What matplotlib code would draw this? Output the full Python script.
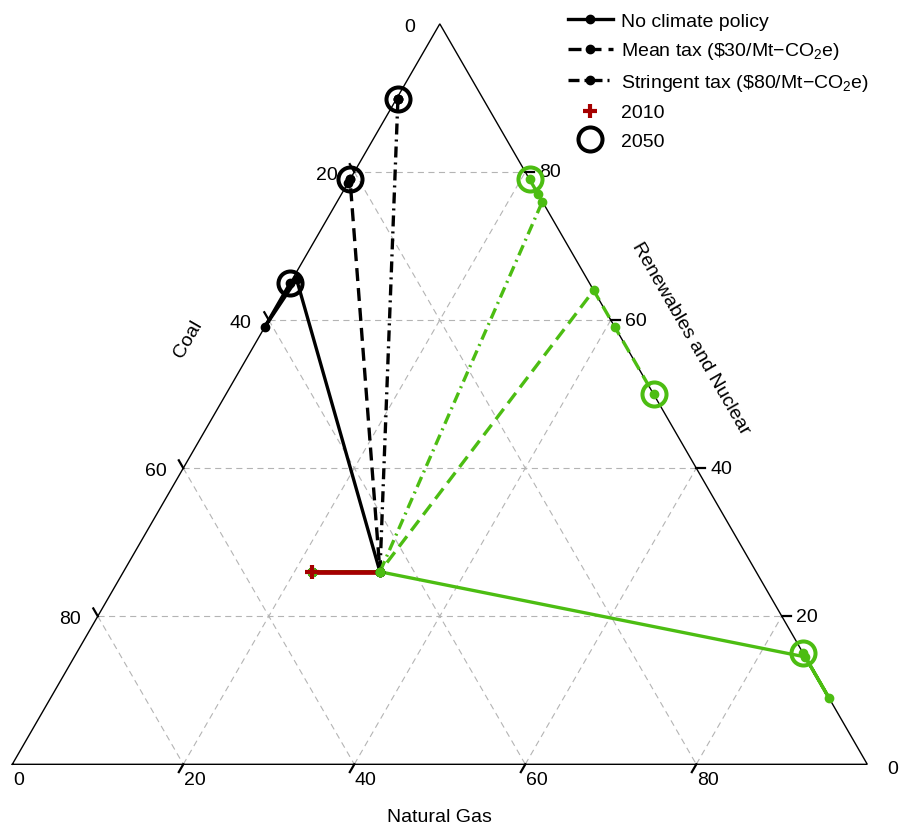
import numpy as np
import matplotlib.pyplot as plt
from matplotlib.lines import Line2D

plt.rcParams['font.family'] = ['Liberation Sans', 'DejaVu Sans']
plt.rcParams['mathtext.fontset'] = 'custom'
plt.rcParams['mathtext.rm'] = 'Liberation Sans'
plt.rcParams['mathtext.it'] = 'Liberation Sans:italic'

# -----------------------------
# Data: electricity shares (%) for 2010, 2020, 2030, 2040, 2050
# -----------------------------
years = [2010, 2020, 2030, 2040, 2050]

# black trajectories
k_none_coal = [52, 44, 34, 41, 35]
k_none_gas = [22, 30, 0.5, 0, 0]
k_none_ren = [26, 26, 65.5, 59, 65]

k_mean_coal = [52, 44, 21, 21.5, 21]
k_mean_gas = [22, 30, 0, 0, 0]
k_mean_ren = [26, 26, 79, 78.5, 79]

k_strict_coal = [52, 44, 10, 10, 10]
k_strict_gas = [22, 30, 0.2, 0.2, 0.2]
k_strict_ren = [26, 26, 89.8, 89.8, 89.8]

# green trajectories
g_none_coal = [52, 44, 0, 0, 0]
g_none_gas = [22, 30, 85.5, 91, 85]
g_none_ren = [26, 26, 14.5, 9, 15]

g_mean_coal = [52, 44, 0, 0, 0]
g_mean_gas = [22, 30, 36, 41, 50]
g_mean_ren = [26, 26, 64, 59, 50]

g_strict_coal = [52, 44, 0, 0, 0]
g_strict_gas = [22, 30, 24, 23, 21]
g_strict_ren = [26, 26, 76, 77, 79]

grid_vals = [20, 40, 60, 80]
label_vals = [0, 20, 40, 60, 80]

GREEN = '#4CBD12'
RED = '#A50000'
SQ3 = np.sqrt(3) / 2


def tern(coal, gas, ren):
    coal, gas, ren = np.asarray(coal, float), np.asarray(gas, float), np.asarray(ren, float)
    s = coal + gas + ren
    gas, ren = 100 * gas / s, 100 * ren / s
    return gas + ren / 2, ren * SQ3


# -----------------------------
# Figure / axes (1 data unit = 8.55 px)
# -----------------------------
fig = plt.figure(figsize=(8.99, 8.29), dpi=100)
ax = fig.add_axes([0, 0, 1, 1])
ax.set_xlim(-1.4386, 103.708)
ax.set_ylim(-7.450, 89.509)
ax.axis('off')
px = 1 / 8.55

# grid
gkw = dict(color='#B4B4B4', lw=0.8, ls=(0, (5.5, 4)), zorder=1)
for v in grid_vals:
    # constant renewables
    x, y = tern([100 - v, 0], [0, 100 - v], [v, v])
    ax.plot(x, y, **gkw)
    # constant gas
    x, y = tern([100 - v, 0], [v, v], [0, 100 - v])
    ax.plot(x, y, **gkw)
    # constant coal
    x, y = tern([v, v], [0, 100 - v], [100 - v, 0])
    ax.plot(x, y, **gkw)

# triangle
x, y = tern([100, 0, 0, 100], [0, 100, 0, 0], [0, 0, 100, 0])
ax.plot(x, y, color='black', lw=1.0, zorder=1.5, solid_joinstyle='miter')

# ticks and labels
tl = 9 * px
for v in label_vals:
    # natural gas (bottom)
    bx, by = tern(100 - v, v, 0)
    if v > 0:
        ax.plot([bx, bx - 0.5 * tl], [by, by - SQ3 * tl], color='black', lw=1.6)
    ax.text(bx + 0.7 * px, by - 15 * px, str(v), ha='left', va='center', fontsize=14)
    # renewables (right)
    bx, by = tern(0, 100 - v, v)
    if v > 0:
        ax.plot([bx, bx + tl], [by, by], color='black', lw=1.6)
    dx, dy = (20, -4) if v == 0 else (14, 0)
    ax.text(bx + dx * px, by + dy * px, str(v), ha='left', va='center', fontsize=14)
    # coal (left)
    bx, by = tern(v, 0, 100 - v)
    if v > 0:
        ax.plot([bx, bx - 0.5 * tl], [by, by + SQ3 * tl], color='black', lw=1.6)
    dx = -25 if v == 0 else -17
    ax.text(bx + dx * px, by - 2.5 * px, str(v), ha='right', va='center', fontsize=14)

ax.text(20.55, 49.86, 'Coal', rotation=60, ha='center', va='center', fontsize=14)
ax.text(79.4, 49.86, 'Renewables and Nuclear', rotation=-60, ha='center', va='center', fontsize=14)
ax.text(50.0, -6.16, 'Natural Gas', ha='center', va='center', fontsize=14)

# -----------------------------
# Trajectories
# -----------------------------
solid = '-'
dashed = (0, (3.9, 2.1))
dashdot = (0, (3.3, 1.5, 0.6, 1.5))

series = [
    (k_none_coal, k_none_gas, k_none_ren, 'black', solid),
    (k_mean_coal, k_mean_gas, k_mean_ren, 'black', dashed),
    (k_strict_coal, k_strict_gas, k_strict_ren, 'black', dashdot),
    (g_none_coal, g_none_gas, g_none_ren, GREEN, solid),
    (g_mean_coal, g_mean_gas, g_mean_ren, GREEN, dashed),
    (g_strict_coal, g_strict_gas, g_strict_ren, GREEN, dashdot),
]

for i, (c, g, r, col, ls) in enumerate(series):
    x, y = tern(c, g, r)
    ax.plot(x, y, color=col, lw=2.4, ls=ls, dash_capstyle='butt', zorder=2 + i * 0.01)
    ax.plot(x, y, 'o', color=col, ms=6, ls='none', zorder=4 + i * 0.01)
    ax.plot(x[-1], y[-1], 'o', mfc='none', mec=col, ms=17.3, mew=2.9, zorder=5)

# 2010 -> 2020 segment
x, y = tern(k_none_coal[:2], k_none_gas[:2], k_none_ren[:2])
ax.plot(x, y, color=RED, lw=3.4, zorder=3, solid_capstyle='butt')
ax.plot(x[0], y[0], '+', color=RED, ms=10, mew=3, zorder=6)

# -----------------------------
# Legend
# -----------------------------
handles = [
    Line2D([], [], color='black', lw=2.4, ls=solid, marker='o', ms=6),
    Line2D([], [], color='black', lw=2.4, ls=dashed, marker='o', ms=6, dash_capstyle='butt'),
    Line2D([], [], color='black', lw=2.4, ls=dashdot, marker='o', ms=6, dash_capstyle='butt'),
    Line2D([], [], color=RED, ls='none', marker='+', ms=10, mew=3),
    Line2D([], [], color='black', ls='none', marker='o', mfc='none', ms=17.3, mew=2.9),
]
labels = [
    'No climate policy',
    r'Mean tax (\$30/Mt−CO$_2$e)',
    r'Stringent tax (\$80/Mt−CO$_2$e)',
    '2010',
    '2050',
]
ax.legend(handles, labels, loc='upper left', bbox_to_anchor=(568 / 899, 1 - 13 / 829),
          bbox_transform=fig.transFigure, frameon=False, fontsize=14, borderpad=0,
          borderaxespad=0, handlelength=2.3, handletextpad=0.45, labelspacing=0.55,
          numpoints=1)

fig.savefig('out.png', dpi=100)
